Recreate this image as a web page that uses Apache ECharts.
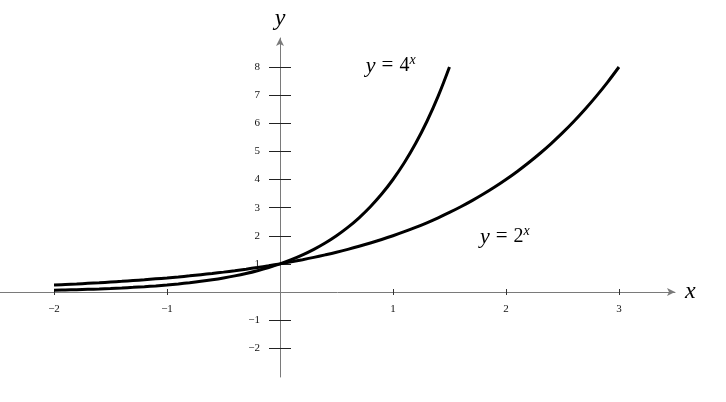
<!DOCTYPE html>
<html>
<head>
<meta charset="utf-8">
<script src="https://cdn.jsdelivr.net/npm/echarts@6/dist/echarts.min.js"></script>
<style>
html,body{margin:0;padding:0;background:#fff;}
#c{width:726px;height:402px;}
</style>
</head>
<body>
<div id="c"></div>
<script>
// Data
const xValues2 = [-2,-1.9,-1.8,-1.7,-1.6,-1.5,-1.4,-1.3,-1.2,-1.1,-1,-0.9,-0.8,-0.7,-0.6,-0.5,-0.4,-0.3,-0.2,-0.1,0,0.1,0.2,0.3,0.4,0.5,0.6,0.7,0.8,0.9,1,1.1,1.2,1.3,1.4,1.5,1.6,1.7,1.8,1.9,2,2.1,2.2,2.3,2.4,2.5,2.6,2.7,2.8,2.9,3];
const yValues2 = [0.25,0.268,0.287,0.308,0.33,0.354,0.379,0.406,0.435,0.467,0.5,0.536,0.574,0.616,0.66,0.707,0.758,0.812,0.871,0.933,1,1.072,1.149,1.231,1.32,1.414,1.516,1.625,1.741,1.866,2,2.144,2.297,2.462,2.639,2.828,3.031,3.249,3.482,3.732,4,4.287,4.595,4.925,5.278,5.657,6.063,6.498,6.964,7.464,8];
const xValues4 = [-2,-1.9,-1.8,-1.7,-1.6,-1.5,-1.4,-1.3,-1.2,-1.1,-1,-0.9,-0.8,-0.7,-0.6,-0.5,-0.4,-0.3,-0.2,-0.1,0,0.1,0.2,0.3,0.4,0.5,0.6,0.7,0.8,0.9,1,1.1,1.2,1.3,1.4,1.5];
const yValues4 = [0.0625,0.0718,0.0825,0.0947,0.1088,0.125,0.1436,0.1649,0.1895,0.2176,0.25,0.2872,0.3299,0.3789,0.4353,0.5,0.5743,0.6598,0.7579,0.8706,1,1.1487,1.3195,1.5157,1.7411,2,2.2974,2.639,3.0314,3.4822,4,4.5948,5.278,6.0629,6.9644,8];
const xTicks = [-2,-1,1,2,3];
const yTicks = [-2,-1,1,2,3,4,5,6,7,8];
const label4Pos = [0.98, 8.04];
const label2Pos = [1.99, 1.96];

const FONT = 'Liberation Serif';
const fmt = v => String(v).replace('-', '\u2212');
const X_MIN = -2.478, X_MAX = 3.496, Y_MIN = -3.022, Y_MAX = 9.031;

const eqRich = {
  i: {fontFamily: FONT, fontStyle: 'italic', fontSize: 22, color: '#000', lineHeight: 26},
  e: {fontFamily: FONT, fontSize: 21, color: '#000', lineHeight: 26, padding: [0, 6, 0, 6]},
  n: {fontFamily: FONT, fontSize: 20, color: '#000', lineHeight: 26},
  s: {fontFamily: FONT, fontStyle: 'italic', fontSize: 14, color: '#000', lineHeight: 16, verticalAlign: 'top'}
};

const chart = echarts.init(document.getElementById('c'), null, {renderer: 'canvas'});
chart.setOption({
  animation: false,
  backgroundColor: '#fff',
  grid: {left: 0, right: 51, top: 38, bottom: 25, outerBoundsMode: 'none', containLabel: false},
  xAxis: [{
    type: 'value', min: X_MIN, max: X_MAX, position: 'bottom', offset: -85,
    name: 'x', nameLocation: 'end', nameGap: 10,
    nameTextStyle: {fontFamily: FONT, fontStyle: 'italic', fontSize: 24, color: '#000', verticalAlign: 'middle', align: 'left'},
    axisLine: {show: true, onZero: false, symbol: ['none','arrow'], symbolSize: [6,8], lineStyle: {color: '#7a7a7a', width: 1}},
    axisTick: {show: true, inside: false, length: 3, customValues: xTicks, lineStyle: {color: '#333', width: 1}},
    axisLabel: {show: true, customValues: xTicks, margin: 12, formatter: fmt, fontFamily: FONT, fontSize: 11, color: '#111'},
    splitLine: {show: false}
  }, {
    type: 'value', min: X_MIN, max: X_MAX, position: 'bottom', offset: -85,
    axisLine: {show: false, onZero: false},
    axisTick: {show: true, inside: true, length: 3, customValues: xTicks, lineStyle: {color: '#333', width: 1}},
    axisLabel: {show: false},
    splitLine: {show: false}
  }],
  yAxis: [{
    type: 'value', min: Y_MIN, max: Y_MAX, position: 'left', offset: -280,
    name: 'y', nameLocation: 'end', nameGap: 7,
    nameTextStyle: {fontFamily: FONT, fontStyle: 'italic', fontSize: 24, color: '#000', align: 'center'},
    axisLine: {show: true, onZero: false, symbol: ['none','arrow'], symbolSize: [6,8], lineStyle: {color: '#7a7a7a', width: 1}},
    axisTick: {show: true, inside: false, length: 11, customValues: yTicks, lineStyle: {color: '#222', width: 1}},
    axisLabel: {show: true, customValues: yTicks, margin: 20, formatter: fmt, fontFamily: FONT, fontSize: 11, color: '#111'},
    splitLine: {show: false}
  }, {
    type: 'value', min: Y_MIN, max: Y_MAX, position: 'left', offset: -280,
    axisLine: {show: false, onZero: false},
    axisTick: {show: true, inside: true, length: 11, customValues: yTicks, lineStyle: {color: '#222', width: 1}},
    axisLabel: {show: false},
    splitLine: {show: false}
  }],
  series: [{
    type: 'line', name: '2^x', xAxisIndex: 0, yAxisIndex: 0,
    data: xValues2.map((x, i) => [x, yValues2[i]]),
    smooth: 0.4, showSymbol: false, symbol: 'none',
    lineStyle: {color: '#000', width: 3},
    markPoint: {
      symbol: 'circle', symbolSize: 0, silent: true,
      data: [{coord: label2Pos, label: {show: true, position: 'inside', fontFamily: FONT, formatter: '{i|y}{e|=}{n|2}{s|x}', rich: eqRich}}]
    }
  }, {
    type: 'line', name: '4^x', xAxisIndex: 0, yAxisIndex: 0,
    data: xValues4.map((x, i) => [x, yValues4[i]]),
    smooth: 0.4, showSymbol: false, symbol: 'none',
    lineStyle: {color: '#000', width: 3},
    markPoint: {
      symbol: 'circle', symbolSize: 0, silent: true,
      data: [{coord: label4Pos, label: {show: true, position: 'inside', fontFamily: FONT, formatter: '{i|y}{e|=}{n|4}{s|x}', rich: eqRich}}]
    }
  }]
});
</script>
</body>
</html>
